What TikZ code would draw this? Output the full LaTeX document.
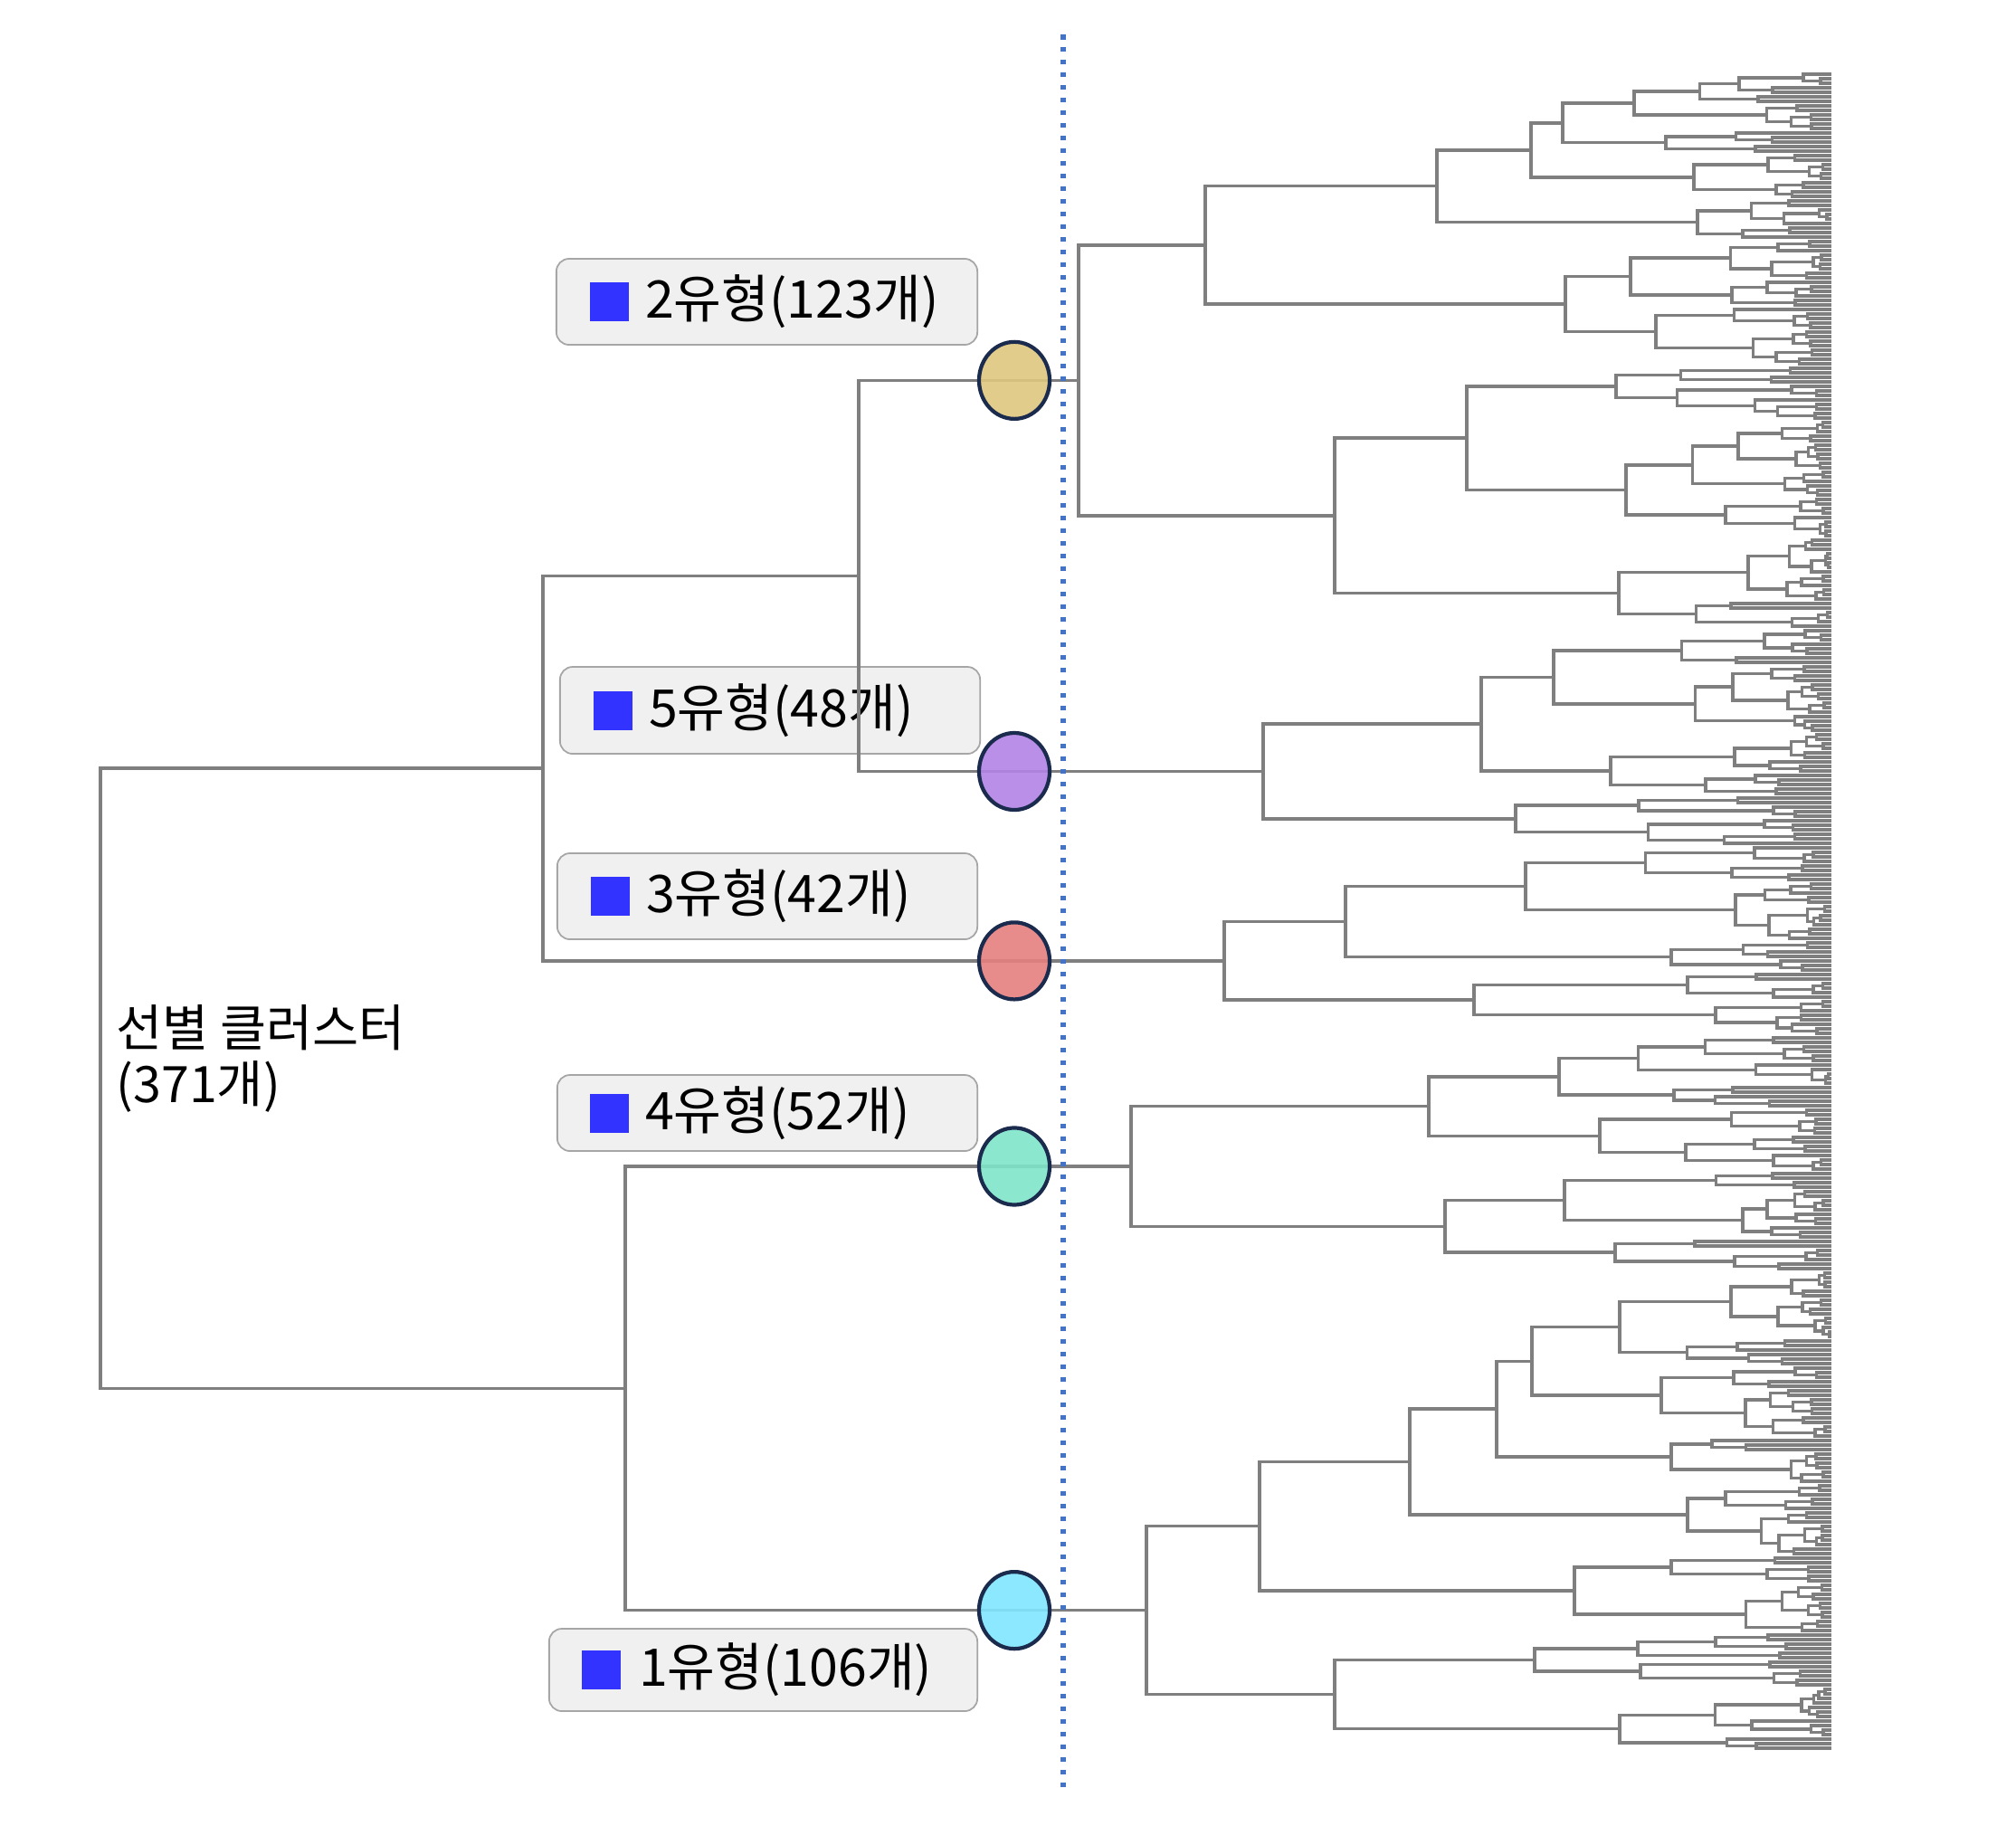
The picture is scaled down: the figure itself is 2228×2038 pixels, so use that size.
\documentclass[tikz,border=0pt]{standalone}
\usepackage{fontspec}
\setmainfont{Noto Sans CJK KR}
\usepackage{tikz}
\usetikzlibrary{positioning,shapes.geometric}
\definecolor{treegray}{HTML}{7F7F7F}
\definecolor{cutblue}{HTML}{4472C4}
\definecolor{boxfill}{HTML}{F0F0F0}
\definecolor{boxedge}{HTML}{A6A6A6}
\definecolor{markblue}{HTML}{3333FF}
\definecolor{blobedge}{HTML}{1B2B4D}
\definecolor{gold}{HTML}{DFC67E}
\definecolor{violet}{HTML}{B183E5}
\definecolor{rose}{HTML}{E57E7E}
\definecolor{mint}{HTML}{80E4CA}
\definecolor{sky}{HTML}{80E5FE}
\tikzset{
  branch/.style={draw=treegray, line width=1pt},
  cutline/.style={draw=cutblue, line width=1.56pt, dash pattern=on 1.56pt off 2.42pt},
  typebox/.style={draw=boxedge, fill=boxfill, rounded corners=0.14cm, line width=0.5pt, inner sep=0pt},
  marker/.style={fill=markblue, inner sep=0pt, minimum size=0.43cm},
  tlab/.style={font=\fontsize{16.3}{19}\selectfont, inner sep=0pt},
  clab/.style={font=\fontsize{15.8}{17.6}\selectfont, inner sep=0pt, align=left},
  blob/.style={ellipse, draw=blobedge, line width=1.2pt, minimum width=0.78cm, minimum height=0.85cm, inner sep=0pt, fill opacity=0.9},
}

% dendrogram: leaves #1..#2 joined at x=#3, y of the join left in \ty
\def\leafx{2024}
\newcommand\cut[5]{\expandafter\def\csname cut@#1@#2\endcsname{{#3}{#4}{#5}}}
\def\getcut#1#2#3{\def\dk{#1}\def\dxl{#2}\def\dxr{#3}}
\newcommand\dtree[3]{\edef\dtnext{\noexpand\dtreework{#1}{#2}{#3}}\dtnext}
\newcommand\dtreework[3]{%
  \begingroup
  \ifnum#1=#2\relax
    \pgfmathsetmacro\dym{82+5*(#1-1)}%
  \else
    \ifcsname cut@#1@#2\endcsname
      \edef\cutdata{\csname cut@#1@#2\endcsname}%
      \expandafter\getcut\cutdata
    \else
      \pgfmathtruncatemacro\dk{#1+floor((#2-#1)*(0.2+0.6*rnd))}%
      \pgfmathsetmacro\dxl{#3+(\leafx-#3)*(0.25+0.5*rnd)}%
      \pgfmathsetmacro\dxr{#3+(\leafx-#3)*(0.25+0.5*rnd)}%
    \fi
    \pgfmathtruncatemacro\dkk{\dk+1}%
    \ifnum\dk=#1\relax \let\dxl\leafx \fi
    \ifnum\dkk=#2\relax \let\dxr\leafx \fi
    \dtree{#1}{\dk}{\dxl}\let\dyl\ty
    \dtree{\dkk}{#2}{\dxr}\let\dyr\ty
    \draw[branch] (\dxl,\dyl) -- (#3,\dyl) -- (#3,\dyr) -- (\dxr,\dyr);
    \pgfmathsetmacro\dym{(\dyl+\dyr)/2}%
  \fi
  \xdef\ty{\dym}%
  \endgroup}

% upper levels: leaves a..b split after k, child x's
\cut{1}{123}{65}{1332}{1475}
\cut{1}{65}{37}{1588}{1730}
\cut{1}{37}{28}{1692}{1876}
\cut{1}{28}{18}{1727}{1872}
\cut{1}{18}{13}{1806}{1841}
\cut{38}{65}{52}{1802}{1830}
\cut{66}{123}{103}{1621}{1789}
\cut{66}{103}{77}{1786}{1797}
\cut{124}{171}{160}{1637}{1675}
\cut{124}{160}{146}{1717}{1780}
\cut{172}{213}{199}{1487}{1629}
\cut{172}{199}{192}{1686}{1847}
\cut{214}{265}{243}{1579}{1597}
\cut{214}{243}{229}{1723}{1768}
\cut{244}{265}{258}{1729}{1785}
\cut{266}{371}{345}{1392}{1475}
\cut{266}{345}{328}{1558}{1740}
\cut{266}{328}{312}{1654}{1865}
\cut{266}{312}{302}{1693}{1847}
\cut{266}{302}{286}{1790}{1836}
\cut{346}{371}{357}{1696}{1790}

\begin{document}
\begin{tikzpicture}[x=0.01cm, y=-0.01cm]
  \useasboundingbox (0,0) rectangle (2228,2038);
  \pgfmathsetseed{21}

  % labels of the five types
  \node[typebox, minimum width=4.65cm, minimum height=0.95cm] (b2) at (847.5,333.5) {};
  \node[typebox, minimum width=4.64cm, minimum height=0.96cm] (b5) at (851,785) {};
  \node[typebox, minimum width=4.64cm, minimum height=0.95cm] (b3) at (848,990.5) {};
  \node[typebox, minimum width=4.64cm, minimum height=0.84cm] (b4) at (848,1230) {};
  \node[typebox, minimum width=4.73cm, minimum height=0.91cm] (b1) at (843.5,1845.5) {};
  \node[marker, right=0.37cm of b2.west] (s2) {};
  \node[marker, right=0.37cm of b5.west] (s5) {};
  \node[marker, right=0.37cm of b3.west] (s3) {};
  \node[marker, right=0.36cm of b4.west] (s4) {};
  \node[marker, right=0.36cm of b1.west] (s1) {};
  \node[tlab, right=0.17cm of s2] (t2) {2유형(123개)};
  \node[tlab, right=0.17cm of s5] (t5) {5유형(48개)};
  \node[tlab, right=0.17cm of s3] (t3) {3유형(42개)};
  \node[tlab, right=0.17cm of s4] (t4) {4유형(52개)};
  \node[tlab, right=0.19cm of s1] (t1) {1유형(106개)};
  \node[clab, anchor=west] (total) at (128,1170) {선별 클러스터\\(371개)};

  % right-hand dendrogram, one call per type
  \dtree{1}{123}{1192}\let\ytwo\ty
  \dtree{124}{171}{1396}\let\yfive\ty
  \dtree{172}{213}{1353}\let\ythree\ty
  \dtree{214}{265}{1250}\let\yfour\ty
  \dtree{266}{371}{1267}\let\yone\ty

  \coordinate (r2) at (1192,\ytwo);
  \coordinate (r5) at (1396,\yfive);
  \coordinate (r3) at (1353,\ythree);
  \coordinate (r4) at (1250,\yfour);
  \coordinate (r1) at (1267,\yone);

  % left-hand joins
  \pgfmathsetmacro\yjoin{(\ytwo+\yfive)/2}
  \pgfmathsetmacro\yup{(\yjoin+\ythree)/2}
  \pgfmathsetmacro\ylow{(\yfour+\yone)/2}
  \pgfmathsetmacro\yroot{(\yup+\ylow)/2}
  \coordinate (j25) at (949,\yjoin);
  \coordinate (jup) at (600,\yup);
  \coordinate (jlow) at (691,\ylow);
  \coordinate (root) at (111,\yroot);

  \draw[branch] (r2) -| (j25) |- (r5);
  \draw[branch] (j25) -| (jup) |- (r3);
  \draw[branch] (r4) -| (jlow) |- (r1);
  \draw[branch] (jup) -| (root) |- (jlow);

  \node[blob, fill=gold] (c2) at (1121,\ytwo) {};
  \node[blob, fill=violet] (c5) at (1121,\yfive) {};
  \node[blob, fill=rose] (c3) at (1121,\ythree) {};
  \node[blob, fill=mint] (c4) at (1121,\yfour) {};
  \node[blob, fill=sky] (c1) at (1121,\yone) {};

  % cut level
  \coordinate (cuttop) at (1175,38);
  \coordinate (cutbot) at (1175,1975);
  \draw[cutline] (cuttop) -- (cutbot);
\end{tikzpicture}
\end{document}
